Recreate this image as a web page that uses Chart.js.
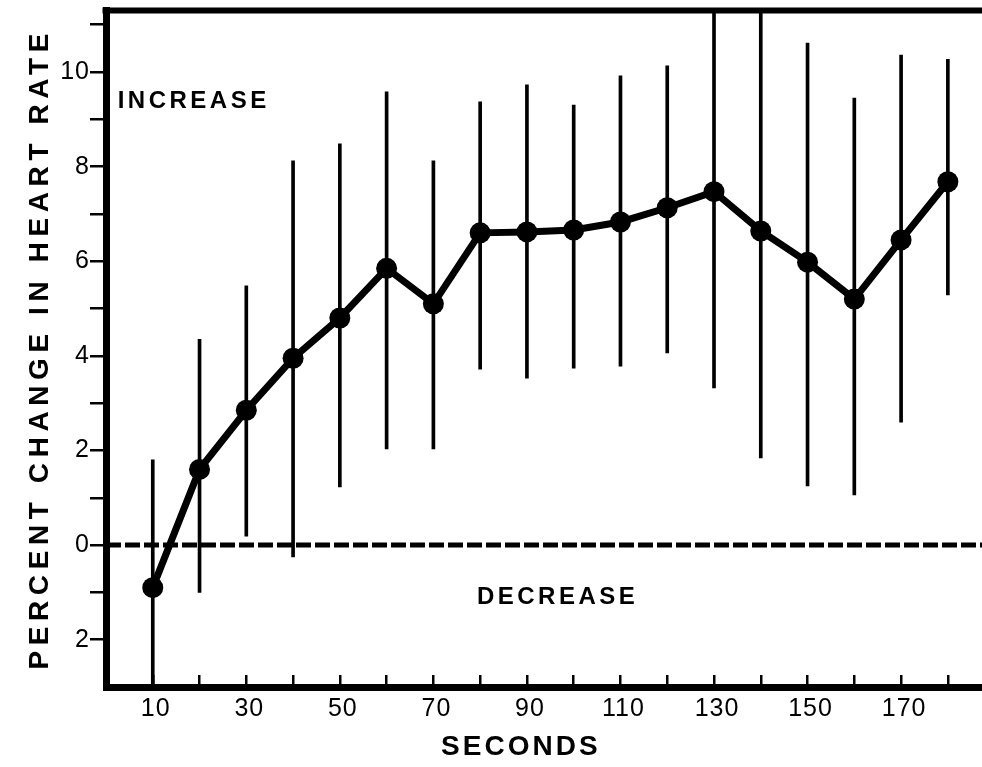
<!DOCTYPE html>
<html>
<head>
<meta charset="utf-8">
<title>Percent change in heart rate</title>
<script src="https://cdn.jsdelivr.net/npm/chart.js@4.4.0/dist/chart.umd.min.js"></script>
<style>
    body { margin: 0; background: #fff; }
    #wrap { width: 982px; height: 767px; }
</style>
</head>
<body>
<div id="wrap"><canvas id="heart-rate-chart" width="982" height="767"></canvas></div>
<script>
/* values */
const seconds = [10, 20, 30, 40, 50, 60, 70, 80, 90, 100, 110, 120, 130, 140, 150, 160, 170, 180];
const meanChange = [-0.9, 1.6, 2.85, 3.95, 4.8, 5.85, 5.1, 6.6, 6.62, 6.66, 6.83, 7.13, 7.47, 6.64, 5.98, 5.2, 6.45, 7.68];
const upperBar = [1.8, 4.35, 5.48, 8.12, 8.48, 9.58, 8.12, 9.37, 9.73, 9.3, 9.92, 10.13, 11.6, 11.6, 10.61, 9.45, 10.36, 10.27];
const lowerBar = [-3.2, -1.0, 0.19, -0.25, 1.23, 2.03, 2.03, 3.72, 3.53, 3.74, 3.78, 4.06, 3.32, 1.84, 1.25, 1.06, 2.6, 5.29];

const xLabeled = [10, 30, 50, 70, 90, 110, 130, 150, 170];
const yLabeled = [-2, 0, 2, 4, 6, 8, 10];
const xMin = 0, xMax = 187.3;
const yMin = -3, yMax = 11.3;

const FONT = '"Liberation Sans", Arial, sans-serif';

/* letter spacing, top frame line, x title and the two notes */
const frameAndNotes = {
    id: 'frameAndNotes',
    beforeDraw(chart) {
        chart.ctx.letterSpacing = '5.6px';   // y axis title
    },
    beforeDatasetsDraw(chart) {
        chart.ctx.letterSpacing = '1px';     // tick labels (drawn after datasets, z = 1)
    },
    afterDraw(chart) {
        const {ctx, chartArea, scales: {x, y}} = chart;
        ctx.save();
        ctx.strokeStyle = '#000';
        ctx.lineWidth = 6;
        ctx.beginPath();
        ctx.moveTo(chartArea.left - 3.5, chartArea.top);
        ctx.lineTo(chartArea.right, chartArea.top);
        ctx.stroke();

        ctx.fillStyle = '#000';
        ctx.textBaseline = 'middle';

        // x axis title
        ctx.font = 'bold 28px ' + FONT;
        ctx.letterSpacing = '3px';
        ctx.textAlign = 'center';
        ctx.fillText('SECONDS', x.getPixelForValue(88.7), 747);

        ctx.font = 'bold 24px ' + FONT;
        ctx.letterSpacing = '3.5px';
        ctx.textAlign = 'left';
        ctx.fillText('INCREASE', x.getPixelForValue(2.5), y.getPixelForValue(9.37));
        ctx.fillText('DECREASE', x.getPixelForValue(79.3), y.getPixelForValue(-1.11));
        ctx.restore();
    }
};

function initHeartRateChart() {
    const ctx = document.getElementById('heart-rate-chart');
    return new Chart(ctx, {
        type: 'line',
        data: {
            datasets: [
                {
                    label: 'mean',
                    data: seconds.map((s, i) => ({x: s, y: meanChange[i]})),
                    borderColor: '#000',
                    borderWidth: 7,
                    tension: 0,
                    pointRadius: 10.5,
                    pointBackgroundColor: '#000',
                    pointBorderWidth: 0
                },
                {
                    label: 'range',
                    type: 'bar',
                    data: seconds.map((s, i) => ({x: s, y: [lowerBar[i], upperBar[i]]})),
                    backgroundColor: '#000',
                    borderWidth: 0,
                    barThickness: 3
                },
                {
                    label: 'zero',
                    data: [{x: xMin, y: 0}, {x: xMax, y: 0}],
                    borderColor: '#000',
                    borderWidth: 5,
                    borderDash: [15, 4],
                    pointRadius: 0
                }
            ]
        },
        options: {
            responsive: false,
            animation: false,
            layout: {
                autoPadding: false,
                padding: {top: 10.5, left: 0, right: 0, bottom: 0}
            },
            plugins: {
                legend: {display: false},
                tooltip: {enabled: false}
            },
            scales: {
                x: {
                    type: 'linear',
                    min: xMin,
                    max: xMax,
                    offset: false,
                    afterBuildTicks: (scale) => {
                        scale.ticks = seconds.map(v => ({value: v}));
                    },
                    afterFit: (scale) => {
                        scale.height = 80;
                        scale.paddingLeft = 0;
                        scale.paddingRight = 0;
                    },
                    grid: {
                        offset: false,
                        drawOnChartArea: false,
                        drawTicks: true,
                        tickLength: -12,
                        color: '#000',
                        lineWidth: 2.5
                    },
                    border: {display: true, color: '#000', width: 7},
                    ticks: {
                        z: 1,
                        autoSkip: false,
                        maxRotation: 0,
                        padding: 19,
                        labelOffset: 3,
                        color: '#000',
                        font: {family: FONT, size: 25},
                        callback: (v) => xLabeled.includes(v) ? String(v) : ''
                    },
                    title: {display: false}
                },
                y: {
                    min: yMin,
                    max: yMax,
                    afterBuildTicks: (scale) => {
                        const t = [];
                        for (let v = -2; v <= 11; v++) t.push({value: v});
                        scale.ticks = t;
                    },
                    afterFit: (scale) => {
                        scale.width = 106;
                        scale.paddingTop = 0;
                        scale.paddingBottom = 0;
                    },
                    grid: {
                        drawOnChartArea: false,
                        drawTicks: true,
                        tickLength: 16,
                        color: '#000',
                        lineWidth: 2.5
                    },
                    border: {display: true, color: '#000', width: 7},
                    ticks: {
                        z: 1,
                        autoSkip: false,
                        padding: 0,
                        color: '#000',
                        font: {family: FONT, size: 25},
                        callback: (v) => yLabeled.includes(v) ? String(Math.abs(v)) : ''
                    },
                    title: {
                        display: true,
                        text: 'PERCENT CHANGE IN HEART RATE',
                        color: '#000',
                        font: {family: FONT, size: 28, weight: 'bold'},
                        padding: {top: 23, bottom: 0}
                    }
                }
            }
        },
        plugins: [frameAndNotes]
    });
}

const heartRateChart = initHeartRateChart();
</script>
</body>
</html>
